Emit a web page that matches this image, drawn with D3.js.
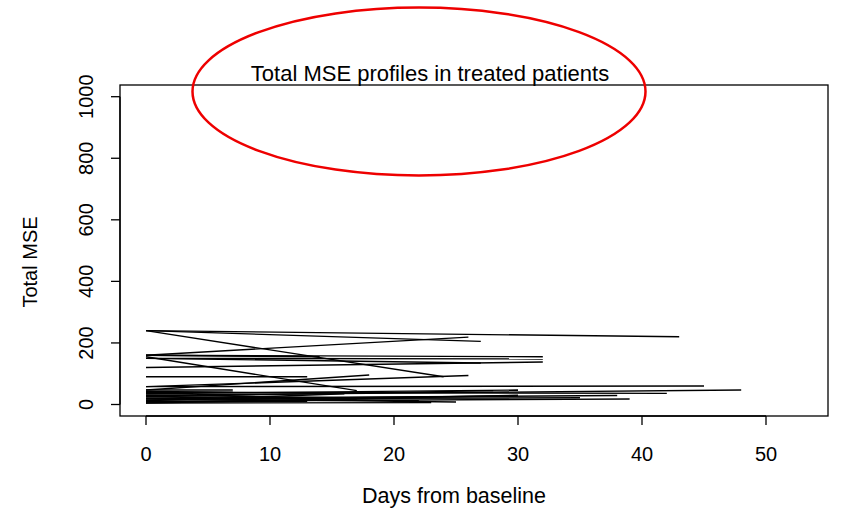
<!DOCTYPE html>
<html>
<head>
<meta charset="utf-8">
<script src="https://cdn.jsdelivr.net/npm/d3@7"></script>
<style>
  body { margin: 0; background: #fff; }
  text { font-family: "Liberation Sans", Arial, sans-serif; fill: #000; }
</style>
</head>
<body>
<script>
// each patient: MSE at baseline (day 0) and at a follow-up day
var baselineMSE = [240, 240, 240, 160, 160, 155, 160, 150, 120, 150, 90, 58, 47,
                   58, 30, 40, 20, 10, 5, 35, 15, 25, 10, 30, 8, 47, 42, 20, 5, 12, 25, 18];
var followDay   = [43, 27, 24, 26, 14, 17, 32, 32, 32, 27, 13, 26, 18,
                   45, 48, 42, 38, 39, 23, 30, 30, 28, 17, 20, 13, 7, 7, 25, 30, 16, 22, 35];
var followMSE   = [220, 205, 90, 219, 155, 45, 155, 148, 138, 135, 90, 94, 96,
                   60, 47, 36, 29, 18, 6, 47, 28, 45, 15, 20, 10, 47, 40, 8, 30, 35, 12, 22];
var xTicks = [0, 10, 20, 30, 40, 50];
var yTicks = [0, 200, 400, 600, 800, 1000];

var W = 845, H = 512;
var box = {left: 120, right: 828, top: 85, bottom: 416};

var svg = d3.select("body").append("svg").attr("width", W).attr("height", H);

var x = d3.scaleLinear().domain([0, 50]).range([146, 766]);
var y = d3.scaleLinear().domain([0, 1000]).range([404.5, 96.7]);

// one line per patient, from day 0 to the follow-up visit
var profiles = baselineMSE.map(function(d, i) {
  return [[0, d], [followDay[i], followMSE[i]]];
});
var line = d3.line().x(function(d) { return x(d[0]); }).y(function(d) { return y(d[1]); });

svg.append("g").selectAll("path")
    .data(profiles)
    .enter().append("path")
    .attr("d", line)
    .attr("fill", "none")
    .attr("stroke", "#000")
    .attr("stroke-width", 1.4);

// plot box
svg.append("rect")
    .attr("x", box.left).attr("y", box.top)
    .attr("width", box.right - box.left).attr("height", box.bottom - box.top)
    .attr("fill", "none").attr("stroke", "#000").attr("stroke-width", 1.3);

// x axis (R style: line between first and last tick, ticks pointing out)
var xAxis = d3.axisBottom(x).tickValues(xTicks).tickFormat(d3.format("d"))
    .tickSize(9).tickPadding(22).tickSizeOuter(0).offset(0);
var gx = svg.append("g").attr("transform", "translate(0," + box.bottom + ")").call(xAxis);
gx.select(".domain").attr("stroke-width", 1.3);
gx.selectAll(".tick line").attr("stroke-width", 1.3);
gx.selectAll("text").attr("font-size", 20).attr("font-family", "Liberation Sans, Arial, sans-serif");

// y axis with rotated labels
var yAxis = d3.axisLeft(y).tickValues(yTicks).tickFormat(d3.format("d"))
    .tickSize(9).tickSizeOuter(0).offset(0);
var gy = svg.append("g").attr("transform", "translate(" + box.left + ",0)").call(yAxis);
gy.select(".domain").attr("stroke-width", 1.3);
gy.selectAll(".tick line").attr("stroke-width", 1.3);
gy.selectAll("text")
    .attr("x", null).attr("dy", null)
    .attr("font-size", 20).attr("font-family", "Liberation Sans, Arial, sans-serif")
    .attr("text-anchor", "middle")
    .attr("transform", "translate(-27,0) rotate(-90)");

// titles
svg.append("text")
    .attr("x", 430).attr("y", 81)
    .attr("text-anchor", "middle")
    .attr("font-size", 22)
    .text("Total MSE profiles in treated patients");

svg.append("text")
    .attr("x", 454).attr("y", 503)
    .attr("text-anchor", "middle")
    .attr("font-size", 21.5)
    .text("Days from baseline");

svg.append("text")
    .attr("transform", "translate(37,262) rotate(-90)")
    .attr("text-anchor", "middle")
    .attr("font-size", 20)
    .text("Total MSE");

// red highlight ellipse around the title
svg.append("ellipse")
    .attr("cx", 419).attr("cy", 91.5)
    .attr("rx", 226.5).attr("ry", 84)
    .attr("fill", "none")
    .attr("stroke", "#ee0000")
    .attr("stroke-width", 2.5);
</script>
</body>
</html>
